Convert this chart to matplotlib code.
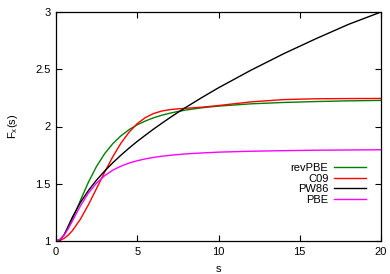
import numpy as np
import matplotlib
matplotlib.use('Agg')
import matplotlib.pyplot as plt

matplotlib.rc('font', **{'family': 'sans-serif', 'sans-serif': ['Liberation Sans', 'DejaVu Sans']})
matplotlib.rc('mathtext', fontset='custom', rm='Liberation Sans', it='Liberation Sans:italic')

# reduced gradient s and enhancement factors
s = [0, 0.25, 0.5, 0.75, 1, 1.5, 2, 2.5, 3, 3.5, 4, 4.5, 5, 5.5, 6, 6.5, 7, 7.5, 8,
     9, 10, 12, 14, 16, 18, 20]

revpbe = [1.0, 1.014, 1.053, 1.112, 1.187, 1.354, 1.515, 1.653, 1.764, 1.851, 1.919,
          1.973, 2.015, 2.048, 2.076, 2.098, 2.116, 2.131, 2.144, 2.164, 2.178,
          2.198, 2.210, 2.218, 2.224, 2.228]
c09 = [1.0, 1.006, 1.023, 1.051, 1.089, 1.190, 1.318, 1.460, 1.603, 1.737, 1.855,
       1.951, 2.025, 2.078, 2.113, 2.135, 2.147, 2.154, 2.159, 2.169, 2.183,
       2.215, 2.235, 2.242, 2.244, 2.245]
pw86 = [1.0, 1.009, 1.054, 1.129, 1.206, 1.336, 1.442, 1.533, 1.612, 1.684, 1.750,
        1.812, 1.870, 1.924, 1.977, 2.027, 2.076, 2.123, 2.168, 2.255, 2.338,
        2.492, 2.635, 2.767, 2.892, 3.0]
pbe = [1.0, 1.014, 1.051, 1.107, 1.172, 1.306, 1.420, 1.507, 1.571, 1.619, 1.654,
       1.681, 1.701, 1.717, 1.730, 1.740, 1.748, 1.755, 1.761, 1.769, 1.776,
       1.784, 1.789, 1.793, 1.795, 1.797]

labels = ['revPBE', 'C09', 'PW86', 'PBE']
colors = ['#008000', '#ff0000', '#000000', '#ff00ff']

fig = plt.figure(figsize=(3.9, 2.74), dpi=100)
ax = fig.add_axes([56/390, 1 - 241/274, 325/390, 229/274])

for y, lab, c in zip([revpbe, c09, pw86, pbe], labels, colors):
    ax.plot(s, y, color=c, linewidth=1.0, label=lab)

ax.set_xlim(0, 20)
ax.set_ylim(1, 3)
ax.set_xticks([0, 5, 10, 15, 20])
ax.set_yticks([1, 1.5, 2, 2.5, 3])
ax.set_yticklabels(['1', '1.5', '2', '2.5', '3'])
ax.tick_params(direction='in', top=True, right=True, length=4, width=0.8, labelsize=8, pad=4)
for sp in ax.spines.values():
    sp.set_linewidth(0.9)

ax.set_xlabel('s', fontsize=8, labelpad=5)
ax.set_ylabel(r'F$_{\rm x}$(s)', fontsize=8, labelpad=11)

leg = ax.legend(loc='lower right', bbox_to_anchor=(0.954, 0.158), markerfirst=False,
                frameon=False, fontsize=8, handlelength=2.9, handletextpad=0.5,
                labelspacing=0.05, borderpad=0, borderaxespad=0)

fig.savefig('out.png', dpi=100)
